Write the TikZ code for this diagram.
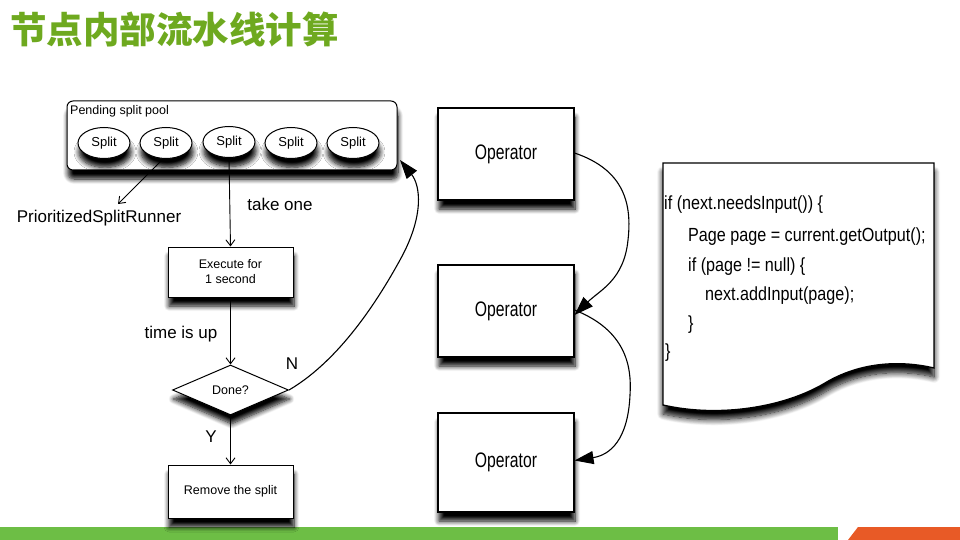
\documentclass[tikz,border=0pt]{standalone}
\usepackage{fontspec}
\setmainfont{Liberation Sans}
\newfontfamily\cjk{Noto Sans CJK SC}
\newfontfamily\narrowsans[FakeStretch=0.75]{Liberation Sans}
\newfontfamily\codefont[FakeStretch=0.85]{Liberation Sans}
\usetikzlibrary{shapes.geometric,arrows.meta,shadows.blur}
\definecolor{titlegreen}{HTML}{6EA91F}
\definecolor{bandgreen}{HTML}{6DBE45}
\definecolor{bandorange}{HTML}{E85A26}
\tikzset{
  shad/.style={blur shadow={shadow blur steps=8, shadow xshift=1pt, shadow yshift=-9pt, shadow opacity=100, shadow blur radius=5pt}},
  splitnode/.style={draw, line width=1pt, ellipse, minimum width=52pt, minimum height=31pt, inner sep=0pt, fill=white, shad, font=\fontsize{13}{14}\selectfont},
  flowbox/.style={draw, line width=1pt, rectangle, fill=white, shad, align=center, font=\fontsize{12.5}{15}\selectfont},
  opbox/.style={draw, line width=1.1pt, rectangle, fill=white, shad, minimum width=136pt, font=\narrowsans\fontsize{21}{22}\selectfont},
  lbl/.style={font=\fontsize{17}{19}\selectfont, inner sep=0pt},
  codeline/.style={anchor=west, inner sep=0pt, font=\codefont\fontsize{19}{21}\selectfont},
  flowarrow/.style={draw, line width=0.9pt, arrows={-Straight Barb[length=6pt,width=9pt]}},
  curvearrow/.style={draw, line width=1.1pt, arrows={-Triangle[length=19pt,width=13pt,fill=black]}}
}
\begin{document}
\begin{tikzpicture}[x=1pt,y=-1pt]
\useasboundingbox (0,0) rectangle (960,540);
% title
\node[text=titlegreen, font=\cjk\bfseries\fontsize{36.5}{36.5}\selectfont, anchor=west, inner sep=0pt] (title) at (10,30) {节点内部流水线计算};
% bottom band
\fill[bandgreen] (0,527) rectangle (838,540);
\fill[bandorange] (848,540) -- (858,527) -- (960,527) -- (960,540) -- cycle;

% pending split pool
\node[draw, line width=1pt, rounded corners=6pt, minimum width=330pt, minimum height=69pt, fill=white, shad] (pool) at (232,135.5) {};
\node[anchor=west, inner sep=0pt, font=\fontsize{12.5}{14}\selectfont] (poollbl) at (70,111) {Pending split pool};
\node[splitnode] (s1) at (104,143) {Split};
\node[splitnode] (s2) at (166,143) {Split};
\node[splitnode] (s3) at (229,142) {Split};
\node[splitnode] (s4) at (291,143) {Split};
\node[splitnode] (s5) at (353,143) {Split};

\node[lbl] (prs) at (99,218) {PrioritizedSplitRunner};
\coordinate (prstip) at (118,204);
\draw[flowarrow] (s2.south) ++(-3pt,0pt) coordinate (s2b) -- (prstip);

\node[flowbox, minimum width=125pt, minimum height=50pt] (exec) at (230.5,272) {Execute for\\1 second};
\draw[flowarrow] (s3.south) -- (exec.north);
\node[lbl] (takeone) at (280,204) {take one};

\node[draw, line width=1pt, diamond, minimum width=116pt, minimum height=50pt, aspect=2.3, inner sep=0pt, fill=white, shad, font=\fontsize{12.5}{14}\selectfont] (done) at (230.5,390) {Done?};
\draw[flowarrow] (exec.south) -- (done.north);
\node[lbl] (timeup) at (181,334) {time is up};

\node[flowbox, minimum width=125pt, minimum height=53pt] (remove) at (230.5,491.5) {Remove the split};
\draw[flowarrow] (done.south) -- (remove.north);
\node[lbl] (yes) at (211,437) {Y};
\node[lbl] (no) at (292,364) {N};

\coordinate (pooltip) at (400,160);
\draw[curvearrow] (done.east) .. controls (340,360) and (378,300) .. (400,260) .. controls (425,215) and (420,185) .. (pooltip);

% operators
\node[opbox, minimum height=92pt] (op1) at (506,154) {Operator};
\node[opbox, minimum height=92pt] (op2) at (506,311) {Operator};
\node[opbox, minimum height=99pt] (op3) at (506,462.5) {Operator};
\draw[curvearrow] ([yshift=1pt]op1.east) .. controls (625,170) and (632,205) .. (628,240) .. controls (624,280) and (600,290) .. ([yshift=-4pt]op2.east);
\draw[curvearrow] ([yshift=1pt]op2.east) .. controls (625,330) and (632,365) .. (630,395) .. controls (628,440) and (610,455) .. ([yshift=2pt]op3.east);

% code document
\draw[line width=1.3pt, fill=white, blur shadow={shadow blur steps=10, shadow xshift=0pt, shadow yshift=-9pt, shadow opacity=100, shadow blur radius=6pt}]
  (663,163) -- (934,163) -- (934,368) .. controls (900,360) and (860,362) .. (825,383)
  .. controls (785,407) and (720,418) .. (663,405) -- cycle;
\node[codeline] (c1) at (664,205) {if (next.needsInput()) \{};
\node[codeline] (c2) at (688,237) {Page page = current.getOutput();};
\node[codeline] (c3) at (688,267) {if (page != null) \{};
\node[codeline] (c4) at (705,296) {next.addInput(page);};
\node[codeline] (c5) at (688,325) {\}};
\node[codeline] (c6) at (665,353) {\}};
\end{tikzpicture}
\end{document}
